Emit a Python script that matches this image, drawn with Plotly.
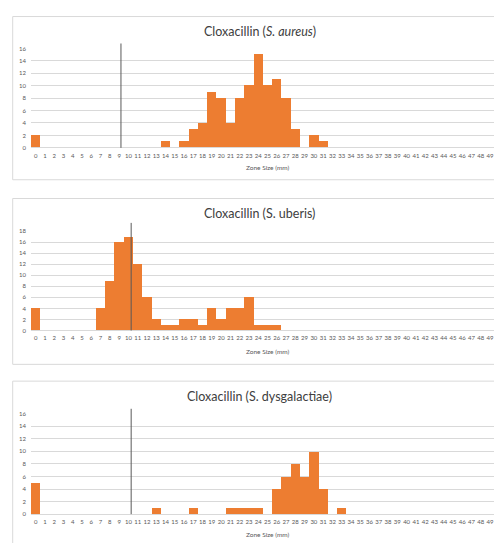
import plotly.graph_objects as go

# Zone-size categories shown on the x axis (mm)
zone_sizes = list(range(0, 51))

# Observed counts per zone size for each organism (sizes not listed are zero)
aureus_sizes = [0, 14, 16, 17, 18, 19, 20, 21, 22, 23, 24, 25, 26, 27, 28, 30, 31]
aureus_counts = [2, 1, 1, 3, 4, 9, 8, 4, 8, 10, 15, 10, 11, 8, 3, 2, 1]

uberis_sizes = [0, 7, 8, 9, 10, 11, 12, 13, 14, 15, 16, 17, 18, 19, 20, 21, 22, 23, 24, 25, 26]
uberis_counts = [4, 4, 9, 16, 17, 12, 6, 2, 1, 1, 2, 2, 1, 4, 2, 4, 4, 6, 1, 1, 1]

dysgal_sizes = [0, 13, 17, 21, 22, 23, 24, 26, 27, 28, 29, 30, 31, 33]
dysgal_counts = [5, 1, 1, 1, 1, 1, 1, 4, 6, 8, 6, 10, 4, 1]

# Breakpoint marker positions (mm)
breakpoints = [9.2, 10.3, 10.3]

titles = [
    "Cloxacillin (<i>S. aureus</i>)",
    "Cloxacillin (S. uberis)",
    "Cloxacillin (S. dysgalactiae)",
]
y_max = [16, 18, 16]

W, H = 510, 550
BAR = "#ED7D31"
GRID = "#D9D9D9"
TXT = "#595959"
FONT = "Lato"


def full_counts(sizes, counts):
    lookup = dict(zip(sizes, counts))
    return [lookup.get(z, 0) for z in zone_sizes]


series = [
    full_counts(aureus_sizes, aureus_counts),
    full_counts(uberis_sizes, uberis_counts),
    full_counts(dysgal_sizes, dysgal_counts),
]

# Panel geometry in pixels: (frame top, frame bottom, plot top, plot bottom, title y, axis-title y, marker top)
panels = [
    (12.7, 178, 45, 145.7, 27.5, 166, 40),
    (197, 365, 230, 330.7, 212.5, 351.5, 221.7),
    (382, 560, 415, 516.7, 398, 537.5, 410),
]
plot_left, plot_right = 31, 504
frame_left, frame_right = 12.7, 507


def xp(px):
    return px / W


def yp(py):
    return 1 - py / H


fig = go.Figure()
shapes = []
annotations = []

for i, (vals, title, ymax, bp, geo) in enumerate(zip(series, titles, y_max, breakpoints, panels)):
    ftop, fbot, ptop, pbot, ty, aty, ltop = geo
    n = "" if i == 0 else str(i + 1)
    fig.add_trace(go.Bar(
        x=zone_sizes, y=vals, marker=dict(color=BAR, line=dict(width=0)),
        xaxis="x" + n, yaxis="y" + n, showlegend=False, hoverinfo="x+y",
    ))
    fig.update_layout(**{
        "xaxis" + n: dict(
            domain=[xp(plot_left), xp(plot_right)], anchor="y" + n,
            range=[-0.5, 50.5], tickmode="array", tickvals=zone_sizes,
            ticktext=[str(z) for z in zone_sizes], tickangle=0,
            showgrid=False, zeroline=False, showline=False, ticks="",
            ticklabelstandoff=3,
            tickfont=dict(family=FONT, size=6, color=TXT),
        ),
        "yaxis" + n: dict(
            domain=[yp(pbot), yp(ptop)], anchor="x" + n,
            range=[0, ymax], dtick=2, showgrid=True, gridcolor=GRID,
            gridwidth=1, zeroline=True, zerolinecolor=GRID, zerolinewidth=1,
            showline=False, ticks="", ticklabelstandoff=4,
            tickfont=dict(family=FONT, size=6, color=TXT),
        ),
    })
    # chart frame
    shapes.append(dict(type="rect", xref="paper", yref="paper",
                       x0=xp(frame_left), x1=xp(frame_right), y0=yp(fbot), y1=yp(ftop),
                       line=dict(color=GRID, width=1), fillcolor="rgba(0,0,0,0)", layer="below"))
    # breakpoint marker
    shapes.append(dict(type="line", xref="x" + n, yref="paper",
                       x0=bp, x1=bp, y0=yp(pbot), y1=yp(ltop),
                       line=dict(color="#595959", width=1)))
    annotations.append(dict(text=title, xref="paper", yref="paper",
                            x=xp((frame_left + frame_right) / 2), y=yp(ty),
                            showarrow=False, xanchor="center", yanchor="middle",
                            font=dict(family=FONT, size=12.5, color="#404040")))
    annotations.append(dict(text="Zone Size (mm)", xref="paper", yref="paper",
                            x=xp((plot_left + plot_right) / 2), y=yp(aty),
                            showarrow=False, xanchor="center", yanchor="middle",
                            font=dict(family=FONT, size=6.5, color=TXT)))

fig.update_layout(
    width=W, height=H, margin=dict(l=0, r=0, t=0, b=0),
    paper_bgcolor="white", plot_bgcolor="white",
    bargap=0, shapes=shapes, annotations=annotations,
)

fig.write_html(
    "out.html",
    post_script="document.documentElement.style.overflow='hidden';document.body.style.overflow='hidden';document.body.style.margin='0';",
)
